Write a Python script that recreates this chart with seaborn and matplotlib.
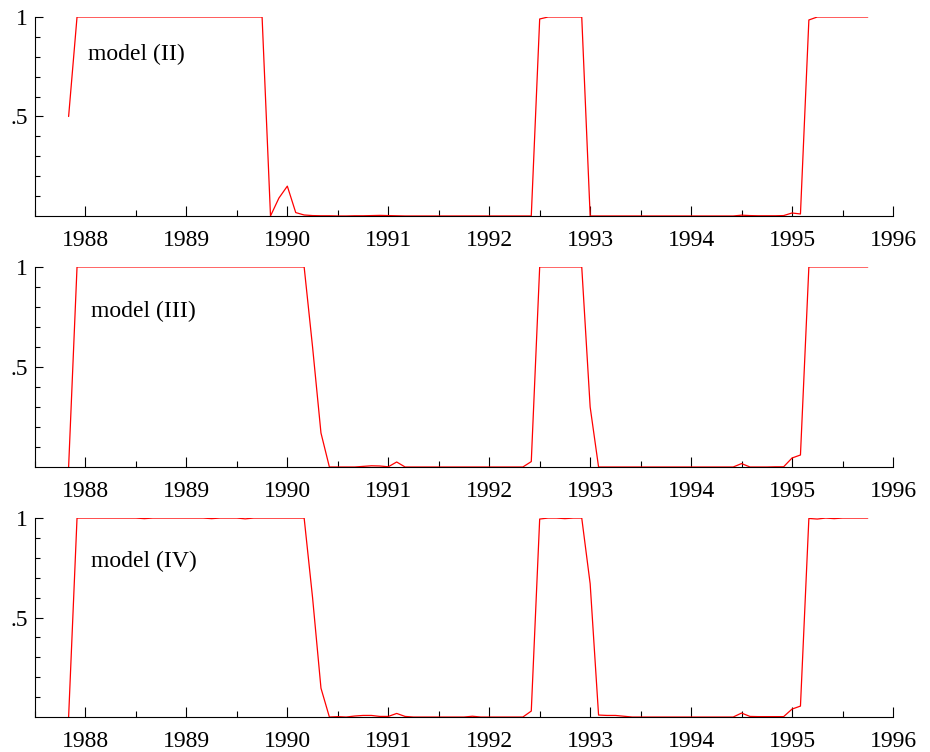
import numpy as np
import pandas as pd
import matplotlib.pyplot as plt
import seaborn as sns

# monthly series, Nov 1987 .. Oct 1995
start_year = 1987
start_month = 10  # November (0 = January)

model_II = [
    0.5, 1.0,                                                   # 1987 Nov-Dec
    1, 1, 1, 1, 1, 1, 1, 1, 1, 1, 1, 1,                         # 1988
    1, 1, 1, 1, 1, 1, 1, 1, 1, 1, 0.0, 0.09,                    # 1989
    0.15, 0.017, 0.005, 0.002, 0.001, 0.001, 0, 0, 0.001, 0.001, 0.002, 0.003,  # 1990
    0.002, 0.001, 0, 0, 0, 0, 0, 0, 0, 0, 0, 0,                 # 1991
    0, 0, 0, 0, 0, 0.0, 0.99, 1, 1, 1, 1, 1,                    # 1992
    0, 0, 0, 0, 0, 0, 0, 0, 0, 0, 0, 0,                         # 1993
    0, 0, 0, 0, 0, 0, 0.004, 0.002, 0.001, 0.001, 0.001, 0.002, # 1994
    0.015, 0.01, 0.985, 1, 1, 1, 1, 1, 1, 1,                    # 1995 Jan-Oct
]

model_III = [
    0.0, 1.0,
    1, 1, 1, 1, 1, 1, 1, 1, 1, 1, 1, 1,
    1, 1, 1, 1, 1, 1, 1, 1, 1, 1, 1, 1,
    1, 1, 1, 0.6, 0.17, 0, 0, 0, 0, 0.003, 0.006, 0.005,
    0.001, 0.025, 0, 0, 0, 0, 0, 0, 0, 0, 0, 0,
    0, 0, 0, 0, 0, 0.027, 1, 1, 1, 1, 1, 1,
    0.3, 0, 0, 0, 0, 0, 0, 0, 0, 0, 0, 0,
    0, 0, 0, 0, 0, 0, 0.017, 0, 0, 0, 0.001, 0.001,
    0.045, 0.06, 1, 1, 1, 1, 1, 1, 1, 1,
]

model_IV = [
    0.0, 1.0,
    1, 1, 1, 1, 1, 1, 1, 0.997, 1, 1, 1, 1,
    1, 1, 1, 0.997, 1, 1, 1, 0.996, 1, 1, 1, 1,
    1, 1, 1, 0.6, 0.145, 0, 0.002, 0, 0.005, 0.008, 0.008, 0.003,
    0.003, 0.018, 0.003, 0, 0, 0, 0, 0, 0, 0, 0.004, 0,
    0, 0, 0, 0, 0, 0.03, 0.995, 1, 1, 0.997, 1, 1,
    0.67, 0.01, 0.008, 0.008, 0.004, 0, 0, 0, 0, 0, 0, 0,
    0, 0, 0, 0, 0, 0, 0.02, 0.003, 0.002, 0.002, 0.002, 0.002,
    0.04, 0.055, 0.998, 0.995, 1, 0.997, 1, 1, 1, 1,
]

labels = ["model (II)", "model (III)", "model (IV)"]
label_x = [1988.025, 1988.06, 1988.06]
label_y = [0.81, 0.78, 0.78]
year_ticks = list(range(1988, 1997))

t = start_year + (start_month + np.arange(len(model_II))) / 12.0
frames = []
for name, vals in zip(labels, [model_II, model_III, model_IV]):
    frames.append(pd.DataFrame({"t": t, "p": vals, "model": name}))
df = pd.concat(frames, ignore_index=True)

sns.set_style("ticks")
plt.rcParams["font.family"] = ["Liberation Serif", "DejaVu Serif"]
plt.rcParams["text.color"] = "black"
plt.rcParams["xtick.color"] = "black"
plt.rcParams["ytick.color"] = "black"

fig = plt.figure(figsize=(9.3, 7.52), dpi=100)
boxes = [(0.0376, 0.7128, 0.9226, 0.2646),
         (0.0376, 0.3790, 0.9226, 0.2660),
         (0.0376, 0.0465, 0.9226, 0.2646)]

for box, name, lx, ly in zip(boxes, labels, label_x, label_y):
    ax = fig.add_axes(box)
    sns.lineplot(data=df[df["model"] == name], x="t", y="p", ax=ax,
                 color="red", linewidth=0.9)
    ax.set_xlim(1987.5, 1996)
    ax.set_ylim(0, 1)
    ax.set_xticks(year_ticks)
    ax.set_xticklabels([str(y) for y in year_ticks])
    ax.set_xticks(np.arange(1987.5, 1996, 1.0), minor=True)
    ax.set_yticks([0.5, 1.0])
    ax.set_yticklabels([".5", "1"])
    ax.set_yticks([0.1, 0.2, 0.3, 0.4, 0.6, 0.7, 0.8, 0.9], minor=True)
    ax.tick_params(axis="x", which="major", direction="in", length=7,
                   width=0.8, labelsize=17, pad=10)
    ax.tick_params(axis="x", which="minor", direction="in", length=4, width=0.8)
    ax.tick_params(axis="y", which="major", direction="in", length=6,
                   width=0.8, labelsize=17, pad=5)
    ax.tick_params(axis="y", which="minor", direction="in", length=3.5, width=0.8)
    sns.despine(ax=ax)
    for s in ["left", "bottom"]:
        ax.spines[s].set_linewidth(0.8)
        ax.spines[s].set_color("black")
    ax.set_xlabel("")
    ax.set_ylabel("")
    ax.text(lx, ly, name, ha="left", va="center", fontsize=17, color="black")

fig.savefig("out.png", dpi=100)
